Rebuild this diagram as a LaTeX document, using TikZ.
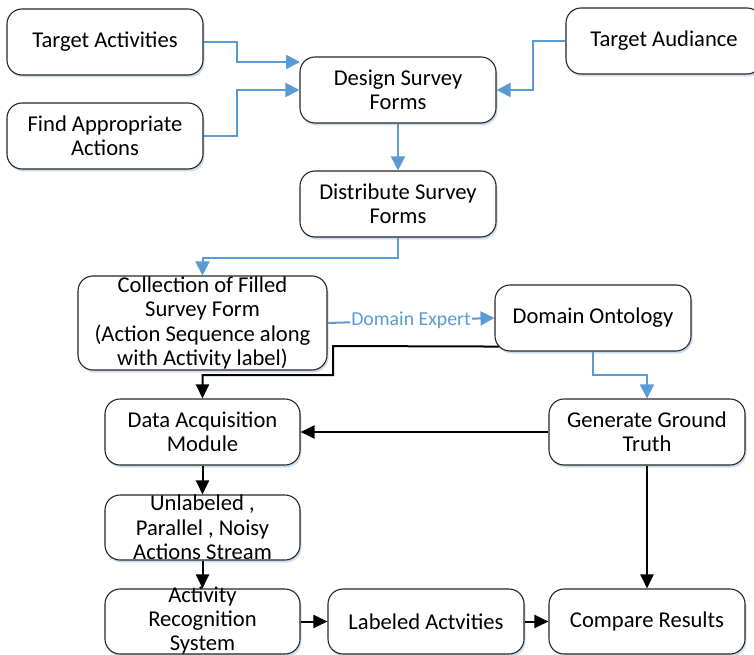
\documentclass[tikz,border=0pt]{standalone}
\usepackage{fontspec}
\setmainfont{Carlito}
\usetikzlibrary{arrows.meta,shadows}
\definecolor{bl}{RGB}{91,155,213}
\definecolor{shc}{RGB}{204,222,240}
\begin{document}
\begin{tikzpicture}[x=1pt,y=-1pt,
  box/.style={draw=black!85, line width=1.1pt, rounded corners=15pt, fill=white,
    drop shadow={fill=shc, opacity=1, shadow xshift=1.5pt, shadow yshift=-2.5pt},
    minimum width=196pt, minimum height=66pt, inner sep=0pt},
  txt/.style={align=center, font=\fontsize{22.6}{24.3}\selectfont, inner sep=0pt},
  barr/.style={draw=bl, line width=2pt, -{Triangle[length=14pt,width=14pt]}},
  karr/.style={draw=black, line width=2pt, -{Triangle[length=14pt,width=13pt]}},
  lbl/.style={fill=white, text=bl, font=\fontsize{19.8}{22}\selectfont, inner sep=1pt}
]
\useasboundingbox (0,0) rectangle (754,655);

\node[box] (ta) at (105,42) {};
\node[txt] (tat) at (ta) {Target Activities};
\node[box] (faa) at (105,136) {};
\node[txt] (faat) at (faa) {Find Appropriate\\Actions};
\node[box] (dsf) at (398,90) {};
\node[txt] (dsft) at (dsf) {Design Survey\\Forms};
\node[box] (tau) at (664,41) {};
\node[txt] (taut) at (tau) {Target Audiance};
\node[box] (dis) at (398,204) {};
\node[txt] (dist) at (dis) {Distribute Survey\\Forms};
\node[box, minimum width=249pt, minimum height=94pt] (col) at (202.5,323) {};
\node[txt] (colt) at (col) {Collection of Filled\\Survey Form\\(Action Sequence along\\with Activity label)};
\node[box] (don) at (593,318) {};
\node[txt] (dont) at (don) {Domain Ontology};
\node[box] (gen) at (647,432) {};
\node[txt] (gent) at (gen) {Generate Ground\\Truth};
\node[box, minimum width=195pt] (daq) at (202.5,432) {};
\node[txt] (daqt) at (daq) {Data Acquisition\\Module};
\node[box, minimum width=195pt, minimum height=65pt] (unl) at (202.5,527.5) {};
\node[txt] (unlt) at (unl) {Unlabeled ,\\Parallel , Noisy\\Actions Stream};
\node[box, minimum width=195pt, minimum height=65pt] (ars) at (202.5,621.5) {};
\node[txt] (arst) at ([yshift=1pt]ars.center) {Activity\\Recognition\\System};
\node[box, minimum height=65pt] (lab) at (426,621.5) {};
\node[txt] (labt) at (lab) {Labeled Actvities};
\node[box, minimum height=65pt] (cmp) at (647,621.5) {};
\node[txt] (cmpt) at (cmp) {Compare Results};

% blue connectors
\draw[barr] (ta.east) -| (237,62) -- (300,62);
\draw[barr] (faa.east) -| (237,90) -- (dsf.west);
\draw[barr] (tau.west) -| (533,90) -- (dsf.east);
\draw[barr] (dsf.south) -- (dis.north);
\draw[barr] (dis.south) -- ++(0,20) -| (col.north);
\draw[barr] (col.east) -- node[lbl] (de) {Domain Expert} (don.west);
\draw[barr] (don.south) -- (593,375) -| (gen.north);

% black connectors
\draw[karr] ([xshift=5pt,yshift=5pt]don.south west) -- (333,346) -- (333,375) -| (daq.north);
\draw[karr] (gen.west) -- (daq.east);
\draw[karr] (daq.south) -- (unl.north);
\draw[karr] (unl.south) -- (ars.north);
\draw[karr] (ars.east) -- (lab.west);
\draw[karr] (lab.east) -- (cmp.west);
\draw[karr] (gen.south) -- (cmp.north);
\end{tikzpicture}
\end{document}
